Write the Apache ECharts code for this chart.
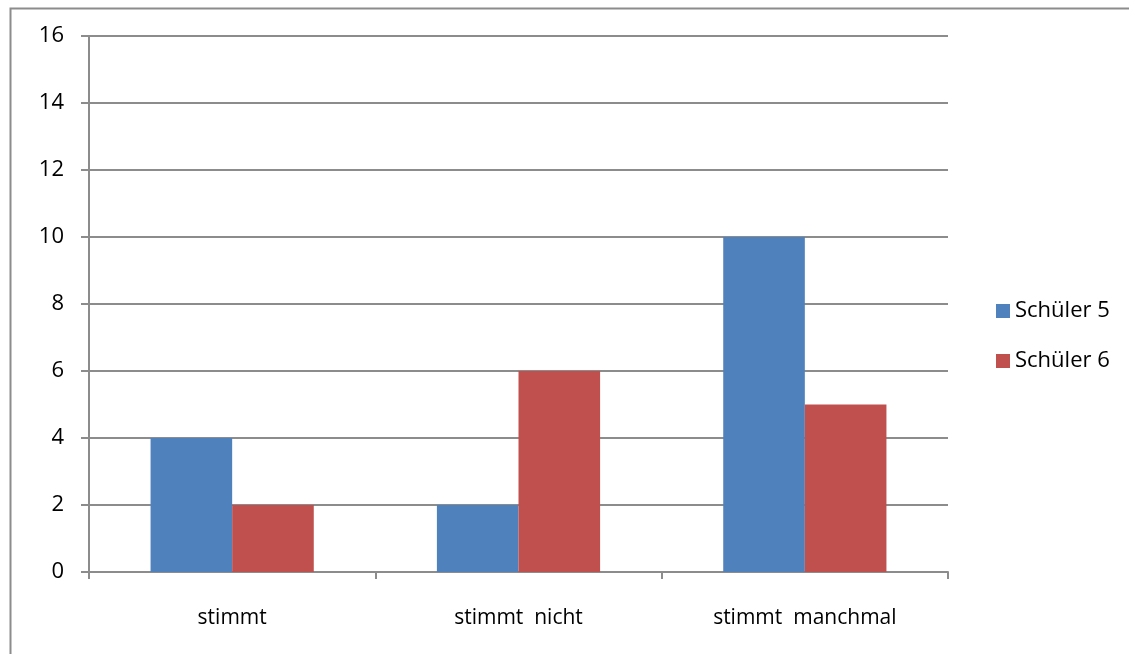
<!DOCTYPE html>
<html>
<head>
<meta charset="utf-8">
<script src="https://cdn.jsdelivr.net/npm/echarts@6/dist/echarts.min.js"></script>
<style>
  html, body { margin: 0; padding: 0; background: #fff; }
  #chart { width: 1129px; height: 654px; }
</style>
</head>
<body>
<div id="chart"></div>
<script>
// Categories and answers per student
const categories = ['stimmt', 'stimmt  nicht', 'stimmt  manchmal'];
const schueler5 = [4, 2, 10];
const schueler6 = [2, 6, 5];
const seriesNames = ['Schüler 5', 'Schüler 6'];

const font = "'Open Sans', 'Liberation Sans', sans-serif";
const gridColor = '#8c8c8c';

const chart = echarts.init(document.getElementById('chart'), null, { renderer: 'canvas' });
chart.setOption({
  animation: false,
  backgroundColor: '#fff',
  graphic: [{
    type: 'rect',
    left: 8, top: 6,
    shape: { width: 1140, height: 670 },
    style: { fill: 'none', stroke: '#8c8c8c', lineWidth: 2 },
    silent: true
  }],
  grid: { left: 89, right: 181, top: 36, bottom: 82, containLabel: false },
  legend: {
    orient: 'vertical',
    left: 991,
    top: 295,
    itemWidth: 14,
    itemHeight: 14,
    itemGap: 28,
    icon: 'rect',
    textStyle: { fontFamily: font, fontSize: 22, color: '#000', padding: [0, 0, 0, 0] },
    data: seriesNames
  },
  xAxis: {
    type: 'category',
    data: categories,
    axisLine: { lineStyle: { color: gridColor, width: 2 } },
    axisTick: { show: true, length: 7, alignWithLabel: false, lineStyle: { color: gridColor, width: 2 } },
    axisLabel: { fontFamily: font, fontSize: 21, color: '#000', margin: 36 }
  },
  yAxis: {
    type: 'value',
    min: 0, max: 16, interval: 2,
    axisLine: { show: true, lineStyle: { color: gridColor, width: 2 } },
    axisTick: { show: true, length: 8, lineStyle: { color: gridColor, width: 2 } },
    axisLabel: { fontFamily: font, fontSize: 22, color: '#000', margin: 25 },
    splitLine: { lineStyle: { color: gridColor, width: 2 } }
  },
  series: [
    {
      name: seriesNames[0], type: 'bar', data: schueler5,
      itemStyle: { color: '#4F81BD' },
      barGap: '0%', barCategoryGap: '43%'
    },
    {
      name: seriesNames[1], type: 'bar', data: schueler6,
      itemStyle: { color: '#C0504D' },
      barGap: '0%', barCategoryGap: '43%'
    }
  ]
});
</script>
</body>
</html>
